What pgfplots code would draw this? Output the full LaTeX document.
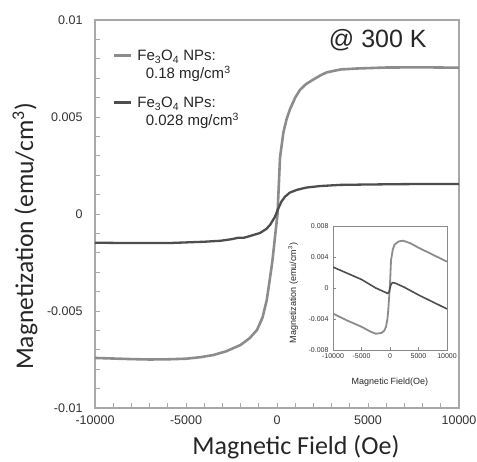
\documentclass[border=0pt]{standalone}
\usepackage{pgfplots}
\pgfplotsset{compat=1.18}
\usepackage{fontspec}
\setmainfont{Liberation Sans}
\newfontfamily\calibri{Carlito}
\definecolor{lightc}{HTML}{8C8C8C}
\definecolor{darkc}{HTML}{4E4E4E}
\definecolor{framec}{HTML}{A8A8A8}
\definecolor{iframec}{HTML}{8A8A8A}
\newcommand{\entry}[2]{\begin{tabular}[t]{@{}l@{}}#1\\\hspace*{8.5pt}#2\end{tabular}}
\begin{document}
\begin{tikzpicture}[x=1pt,y=1pt]
\path[use as bounding box] (0,0) rectangle (477,462);
\begin{axis}[
  at={(95pt,54pt)}, anchor=south west,
  scale only axis, width=364pt, height=388pt,
  xmin=-10000, xmax=10000, ymin=-0.01, ymax=0.01,
  scaled x ticks=false, scaled y ticks=false,
  xtick={-10000,-5000,0,5000,10000},
  xticklabels={-10000,-5000,0,5000,10000},
  ytick={-0.01,-0.005,0,0.005,0.01},
  yticklabels={-0.01,-0.005,0,0.005,0.01},
  minor x tick num=4, minor y tick num=4,
  xtick pos=bottom, ytick pos=left,
  tick align=inside,
  major tick length=5pt, minor tick length=5pt,
  every tick/.style={framec, line width=0.8pt},
  axis line style={framec, line width=1.2pt},
  tick label style={font=\fontsize{12.5}{14}\selectfont, text=black!80},
  yticklabel style={xshift=-9pt},
  xticklabel style={yshift=-4pt},
  xlabel={\calibri Magnetic Field (Oe)},
  ylabel={\calibri Magnetization (emu/cm\textsuperscript{3})},
  xlabel style={font=\fontsize{26}{28}\selectfont, text=black!85, at={(axis description cs:0.552,-0.1005)}, anchor=center},
  ylabel style={font=\fontsize{25.5}{28}\selectfont, text=black!85, at={(axis description cs:-0.192,0.442)}, anchor=center},
  legend style={at={(axis description cs:0.0486,0.925)}, anchor=north west,
    draw=none, fill=none, inner sep=0pt, outer sep=0pt,
    font=\fontsize{15}{17}\selectfont, text=black!85,
    cells={anchor=base west}, nodes={inner sep=0pt},
    row sep=33.5pt, column sep=5.5pt},
  legend image code/.code={\draw[#1] (0pt,5.3pt) -- (16.6pt,5.3pt);},
]
% 0.18 mg/cm3
\addplot[lightc, line width=2.6pt, line join=round] coordinates {
(-10000,-0.00742) (-9000,-0.00745) (-8000,-0.00748) (-7000,-0.00750)
(-6000,-0.00749) (-5000,-0.00746) (-4200,-0.00738) (-3500,-0.00727)
(-2800,-0.00708) (-2000,-0.00675) (-1500,-0.00640) (-1100,-0.00598)
(-800,-0.00535) (-566,-0.00445) (-400,-0.00340) (-250,-0.00240)
(-100,-0.00110) (30,0.00000) (165,0.00290) (350,0.00420)
(530,0.00490) (714,0.00540) (1000,0.00600) (1264,0.00640)
(1600,0.00670) (1978,0.00692) (2400,0.00715) (2730,0.00730)
(3500,0.00745) (4400,0.00750) (6000,0.00755) (8000,0.00756) (10000,0.00754)};
\addlegendentry{\entry{Fe\textsubscript{3}O\textsubscript{4} NPs:}{0.18 mg/cm\textsuperscript{3}}}
% 0.028 mg/cm3
\addplot[darkc, line width=2.3pt, line join=round] coordinates {
(-10000,-0.00148) (-8000,-0.00150) (-6000,-0.00150) (-4000,-0.00143)
(-3100,-0.00138) (-2500,-0.00130) (-2100,-0.00122) (-1800,-0.00122)
(-1500,-0.00114) (-934,-0.00098) (-600,-0.00078) (-385,-0.00057)
(-110,-0.00014) (73,0.00029) (250,0.00065) (440,0.00089)
(700,0.00110) (1080,0.00124) (1600,0.00136) (2360,0.00144)
(3460,0.00150) (5000,0.00152) (7000,0.00154) (10000,0.00155)};
\addlegendentry{\entry{Fe\textsubscript{3}O\textsubscript{4} NPs:}{0.028 mg/cm\textsuperscript{3}}}
\node[font=\fontsize{25}{28}\selectfont, text=black!85] at (axis description cs:0.777,0.948) {@ 300 K};
\end{axis}
\begin{axis}[
  at={(333pt,112pt)}, anchor=south west,
  scale only axis, width=114pt, height=124pt,
  xmin=-10000, xmax=10000, ymin=-0.008, ymax=0.008,
  scaled x ticks=false, scaled y ticks=false,
  xtick={-10000,-5000,0,5000,10000},
  xticklabels={-10000,-5000,0,5000,10000},
  ytick={-0.008,-0.004,0,0.004,0.008},
  yticklabels={-0.008,-0.004,0,0.004,0.008},
  xtick pos=bottom, ytick pos=left,
  tick align=inside, major tick length=2.5pt,
  every tick/.style={iframec, line width=0.6pt},
  axis line style={iframec, line width=0.8pt},
  axis background/.style={fill=white},
  tick label style={font=\fontsize{7}{8}\selectfont, text=black!80},
  yticklabel style={xshift=-1pt},
  xlabel={Magnetic Field(Oe)},
  ylabel={Magnetization (emu/cm\textsuperscript{3})},
  label style={font=\fontsize{9}{10}\selectfont, text=black!85},
  xlabel style={at={(axis description cs:0.5,-0.258)}, anchor=center},
  ylabel style={at={(axis description cs:-0.35,0.46)}, anchor=center},
]
\addplot[lightc, line width=1.8pt, line join=round] coordinates {
(-10000,-0.0033) (-7500,-0.0042) (-5000,-0.0050) (-3500,-0.0056)
(-2500,-0.0059) (-1500,-0.0058) (-1000,-0.0055) (-700,-0.0050)
(-450,-0.0040) (-300,-0.0028) (-150,-0.0012) (0,0.0005)
(180,0.0036) (500,0.0050) (800,0.0056) (1500,0.0060) (2300,0.0061)
(3500,0.0058) (5000,0.0052) (7500,0.0043) (10000,0.0034)};
\addplot[darkc, line width=1.6pt, line join=round] coordinates {
(-10000,0.0027) (-7500,0.0019) (-5000,0.0011) (-2500,0.0000)
(-1300,-0.0004) (-700,-0.0006) (-415,-0.0007) (-150,-0.0005)
(0,0.0000) (200,0.0005) (470,0.0007) (1000,0.0006) (2500,0.0001)
(5000,-0.0009) (7500,-0.0018) (10000,-0.0027)};
\end{axis}
\end{tikzpicture}
\end{document}
